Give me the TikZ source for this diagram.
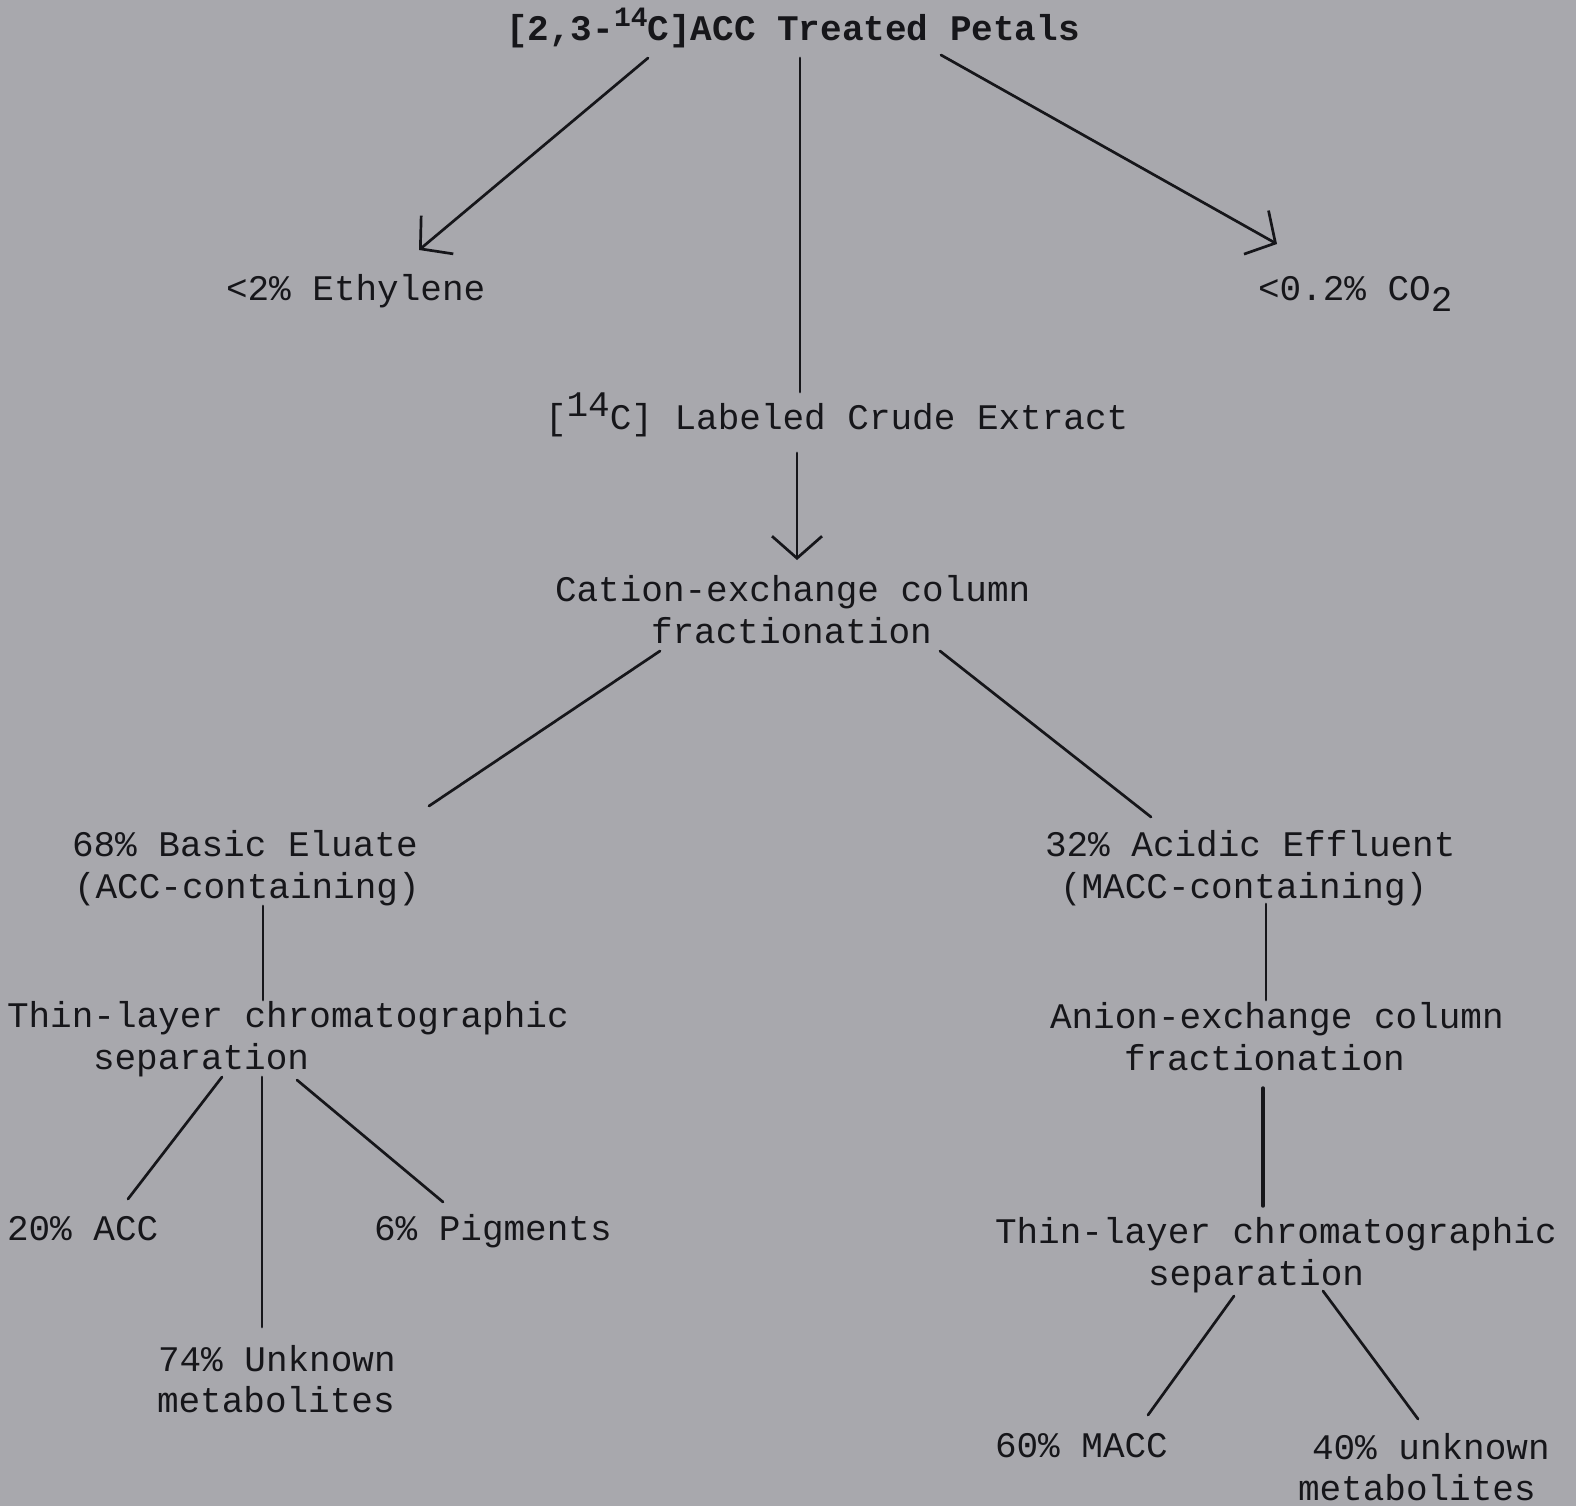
\documentclass[tikz,border=0pt]{standalone}
\usepackage{fontspec}
\setmainfont{Liberation Mono}
\usetikzlibrary{arrows.meta}
\definecolor{paper}{RGB}{168,168,173}
\definecolor{ink}{RGB}{22,22,26}
\newcommand\supr[2]{\raisebox{#1}{#2}}
\begin{document}
\begin{tikzpicture}[x=1pt,y=-1pt,
  lbl/.style={anchor=base west, inner sep=0pt, outer sep=0pt, text=ink, font=\fontsize{36}{42}\selectfont},
  ttl/.style={lbl, font=\fontsize{36}{42}\selectfont\bfseries},
  conn/.style={draw=ink, line width=2.7pt, line cap=round},
  arr/.style={conn, -{Straight Barb[length=22pt,width=50pt,line width=2.7pt]}}]
\fill[paper] (0,0) rectangle (1576,1506);
\useasboundingbox (0,0) rectangle (1576,1506);

% texts
\node[ttl] (title) at (506,41) {[2,3-\supr{14pt}{\fontsize{28}{28}\selectfont 14}C]ACC Treated Petals};
\node[lbl] (eth) at (226,300) {<2\% Ethylene};
\node[lbl] (co2) at (1258,300) {<0.2\% CO\raisebox{-11pt}{2}};
\node[lbl] (crude) at (545,429) {[\supr{13pt}{14}C] Labeled Crude Extract};
\node[lbl] (cat1) at (555,601) {Cation-exchange column};
\node[lbl] (cat2) at (651,643) {fractionation};
\node[lbl] (bas1) at (72,856) {68\% Basic Eluate};
\node[lbl] (bas2) at (74,898) {(ACC-containing)};
\node[lbl] (acd1) at (1045,856) {32\% Acidic Effluent};
\node[lbl] (acd2) at (1060,898) {(MACC-containing)};
\node[lbl] (tlcL1) at (7,1027) {Thin-layer chromatographic};
\node[lbl] (tlcL2) at (93,1069) {separation};
\node[lbl] (ani1) at (1050,1028) {Anion-exchange column};
\node[lbl] (ani2) at (1124,1070) {fractionation};
\node[lbl] (acc) at (7,1240) {20\% ACC};
\node[lbl] (pig) at (374,1240) {6\% Pigments};
\node[lbl] (unk1) at (158,1371) {74\% Unknown};
\node[lbl] (unk2) at (157,1412) {metabolites};
\node[lbl] (tlcR1) at (995,1243) {Thin-layer chromatographic};
\node[lbl] (tlcR2) at (1148,1285) {separation};
\node[lbl] (macc) at (995,1457) {60\% MACC};
\node[lbl] (unr1) at (1312,1459) {40\% unknown};
\node[lbl] (unr2) at (1298,1500) {metabolites};

% connector end points
\coordinate (tE) at (648,58);   \coordinate (eE) at (419,250);
\coordinate (tC) at (800,58);   \coordinate (cT) at (800,392);
\coordinate (tO) at (941,55);   \coordinate (oT) at (1277,244);
\coordinate (cD) at (797,453);  \coordinate (kT) at (797,560);
\coordinate (kL) at (660,651);  \coordinate (bT) at (429,806);
\coordinate (kR) at (940,651);  \coordinate (aT) at (1151,817);
\coordinate (bD) at (263,906);  \coordinate (lT) at (263,1000);
\coordinate (aD) at (1266,904); \coordinate (nT) at (1266,1000);
\coordinate (lA) at (222,1077); \coordinate (accT) at (128,1199);
\coordinate (lU) at (262,1077); \coordinate (unkT) at (262,1327);
\coordinate (lP) at (297,1080); \coordinate (pigT) at (443,1202);
\coordinate (nD) at (1263,1088);\coordinate (rT) at (1263,1206);
\coordinate (rM) at (1234,1296);\coordinate (mT) at (1148,1415);
\coordinate (rU) at (1323,1291);\coordinate (uT) at (1418,1419);

% connectors
\draw[arr] (tE) -- (eE);
\draw[conn] (tC) -- (cT);
\draw[arr] (tO) -- (oT);
\draw[arr] (cD) -- (kT);
\draw[conn] (kL) -- (bT);
\draw[conn] (kR) -- (aT);
\draw[conn] (bD) -- (lT);
\draw[conn] (aD) -- (nT);
\draw[conn] (lA) -- (accT);
\draw[conn] (lU) -- (unkT);
\draw[conn] (lP) -- (pigT);
\draw[conn, line width=3.4pt] (nD) -- (rT);
\draw[conn] (rM) -- (mT);
\draw[conn] (rU) -- (uT);
\end{tikzpicture}
\end{document}
